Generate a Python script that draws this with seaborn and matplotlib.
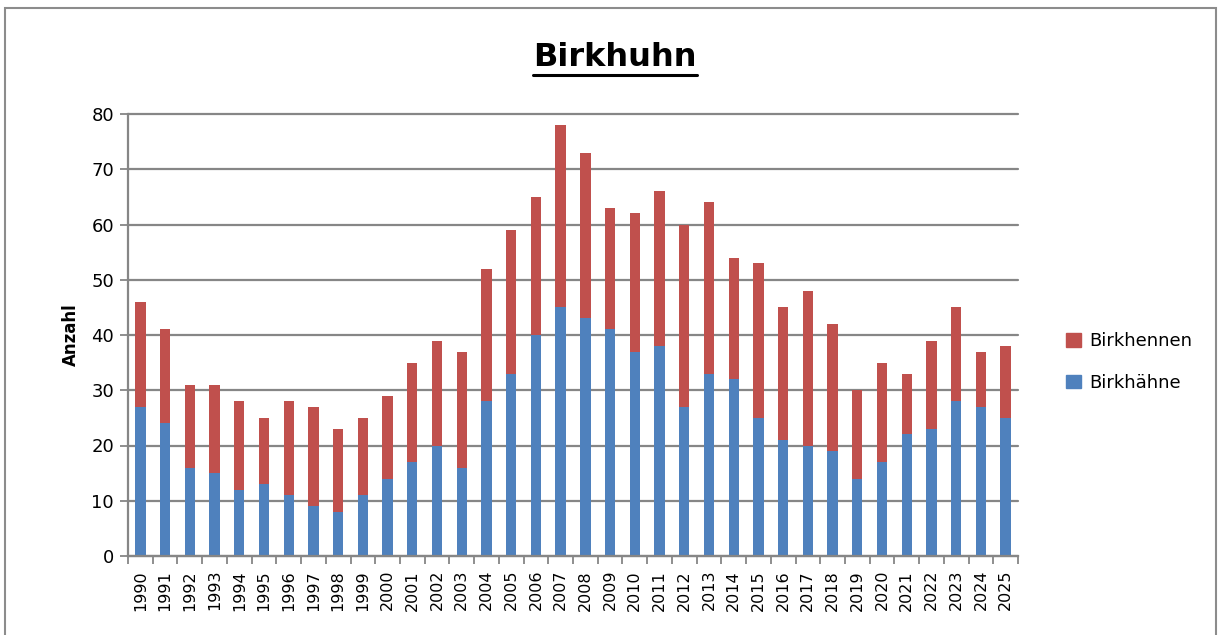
import matplotlib
matplotlib.use("Agg")
import matplotlib.pyplot as plt
from matplotlib.patches import Rectangle, Patch
from matplotlib.lines import Line2D
import seaborn as sns
import pandas as pd
import numpy as np

years = [str(y) for y in range(1990, 2026)]
totals = [46, 41, 31, 31, 28, 25, 28, 27, 23, 25, 29, 35, 39, 37, 52, 59, 65, 78,
          73, 63, 62, 66, 60, 64, 54, 53, 45, 48, 42, 30, 35, 33, 39, 45, 37, 38]
hahne = [27, 24, 16, 15, 12, 13, 11, 9, 8, 11, 14, 17, 20, 16, 28, 33, 40, 45,
         43, 41, 37, 38, 27, 33, 32, 25, 21, 20, 19, 14, 17, 22, 23, 28, 27, 25]
hennen = [t - h for t, h in zip(totals, hahne)]

blue = "#4F81BD"
red = "#C0504D"
grid_col = "#868686"

sns.set_theme(style="white")
plt.rcParams['font.family'] = ['DejaVu Sans']
plt.rcParams['text.color'] = 'black'
plt.rcParams['axes.labelcolor'] = 'black'
plt.rcParams['xtick.color'] = 'black'
plt.rcParams['ytick.color'] = 'black'

df = pd.DataFrame({"Jahr": years, "Gesamt": totals, "Birkhähne": hahne, "Birkhennen": hennen})

fig = plt.figure(figsize=(12.19, 6.35), dpi=100)
ax = fig.add_axes([128/1219, 1-556/635, (1018-128)/1219, (556-114)/635])

sns.barplot(data=df, x="Jahr", y="Gesamt", color=red, width=0.42, ax=ax, saturation=1, linewidth=0)
sns.barplot(data=df, x="Jahr", y="Birkhähne", color=blue, width=0.42, ax=ax, saturation=1, linewidth=0)
n = len(years)
for i, p in enumerate(ax.patches):
    p.set_zorder(3 if i < n else 4)

ax.set_ylim(0, 80)
ax.set_xlim(-0.5, n - 0.5)
ax.set_yticks(np.arange(0, 81, 10))
ax.yaxis.grid(True, color=grid_col, linewidth=1.6, zorder=0)
ax.set_axisbelow(True)
for gl in ax.get_ygridlines():
    gl.set_clip_on(False)
for s in ["top", "right"]:
    ax.spines[s].set_visible(False)
ax.spines["left"].set_color(grid_col)
ax.spines["left"].set_linewidth(1.6)
ax.spines["bottom"].set_color(grid_col)
ax.spines["bottom"].set_linewidth(1.6)
ax.spines["bottom"].set_zorder(5)

ax.tick_params(axis="y", which="major", left=True, length=6, width=1.3, color=grid_col,
               labelsize=13, pad=4, labelcolor="black")
ax.set_xticks(range(n))
ax.set_xticklabels(years, rotation=90)
ax.tick_params(axis="x", which="major", bottom=False, length=0, labelsize=11.5, pad=10, labelcolor="black")
ax.set_xticks(np.arange(-0.5, n, 1), minor=True)
ax.tick_params(axis="x", which="minor", bottom=True, length=6, width=1.3, color=grid_col)

ax.set_xlabel("")
ax.set_ylabel("Anzahl", fontsize=12, fontweight="bold", labelpad=8, color="black")

handles = [Patch(facecolor=red, edgecolor=red, label="Birkhennen"),
           Patch(facecolor=blue, edgecolor=blue, label="Birkhähne")]
leg = fig.legend(handles=handles, loc="center left", bbox_to_anchor=(1050/1219, 1-362/635),
                 frameon=False, fontsize=13, handlelength=0.8, handleheight=0.8,
                 handletextpad=0.5, labelspacing=1.3)
for txt in leg.get_texts():
    txt.set_color("black")

t = fig.text(615/1219, 1-57/635, "Birkhuhn", ha="center", va="center",
             fontsize=23, fontweight="bold", color="black")
fig.canvas.draw()
bb = t.get_window_extent()
fig.add_artist(Line2D([bb.x0/1219, bb.x1/1219], [(bb.y0 - 2)/635, (bb.y0 - 2)/635],
                      color="black", linewidth=2.2, transform=fig.transFigure))

fig.add_artist(Rectangle((5/1219, -0.05), (1216-5)/1219, 1.05 - 8/635, fill=False,
                         edgecolor="#8c8c8c", linewidth=1.5, transform=fig.transFigure))

fig.savefig("out.png", dpi=100)
